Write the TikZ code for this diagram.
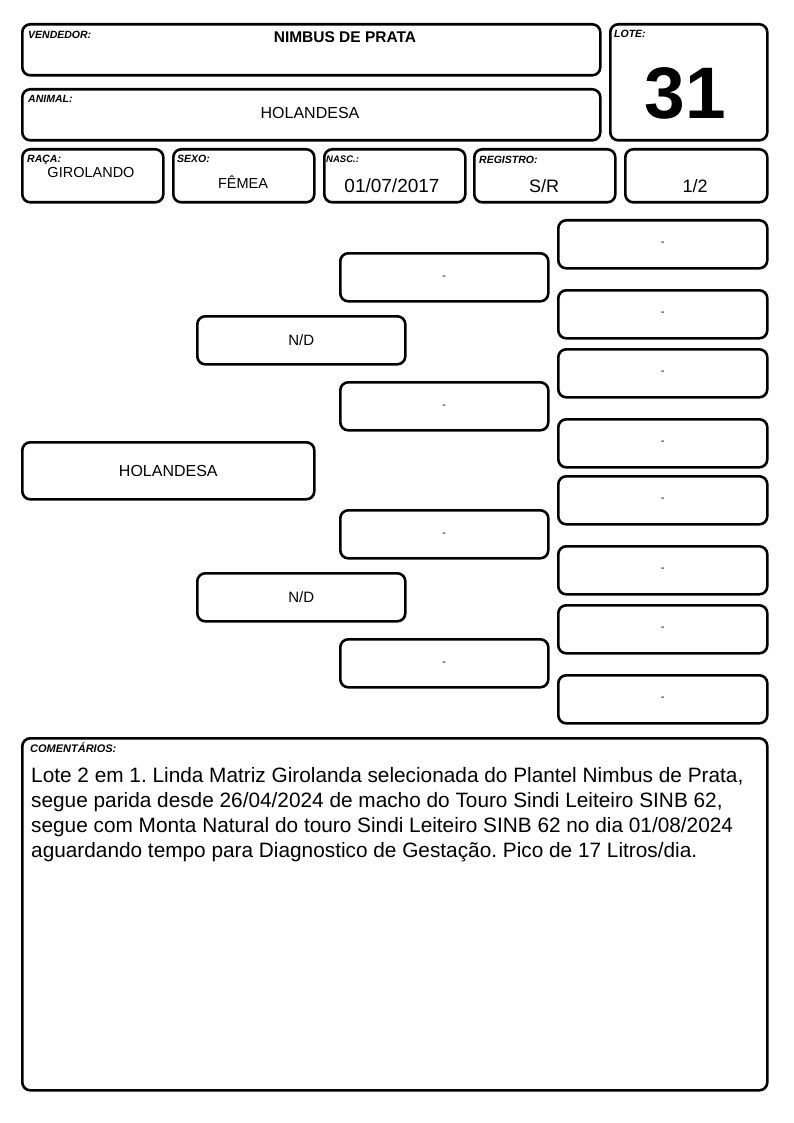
\documentclass[tikz,border=0pt]{standalone}
\usepackage{fontspec}
\setmainfont{Liberation Sans}
\frenchspacing
\begin{document}
\begin{tikzpicture}[x=1pt,y=-1pt,
  box/.style={draw=black, line width=2.6pt, rounded corners=8pt, inner sep=0pt, anchor=north west},
  lbl/.style={anchor=base west, inner sep=0pt, font=\fontsize{10.5}{11}\selectfont\bfseries\itshape},
  val/.style={inner sep=0pt, font=\fontsize{14.5}{16}\selectfont},
  dashtxt/.style={inner sep=0pt, font=\fontsize{11}{12}\selectfont}]
\path[use as bounding box, fill=white] (0,0) rectangle (794,1123);
\newcommand{\bx}[5]{\node[box, minimum width=#4-#2, minimum height=#5-#3] (#1) at (#2,#3) {};}
% header boxes
\bx{vend}{21}{23}{599}{74}
\bx{anim}{21}{88}{599}{139}
\bx{lote}{609}{23}{766}{139}
\bx{raca}{21}{148}{162}{201}
\bx{sexo}{172}{148}{313}{201}
\bx{nasc}{323}{148}{464}{201}
\bx{reg}{473}{148}{614}{201}
\bx{frac}{624}{148}{766}{201}
% labels
\node[lbl] (lvend) at (28,39) {VENDEDOR:};
\node[lbl] (lanim) at (28,102.5) {ANIMAL:};
\node[lbl] (llote) at (614,38) {LOTE:};
\node[lbl] (lraca) at (27,162.5) {RAÇA:};
\node[lbl] (lsexo) at (177,163) {SEXO:};
\node[lbl, font=\fontsize{9.5}{10}\selectfont\bfseries\itshape] (lnasc) at (326,163) {NASC.:};
\node[lbl] (lreg) at (479,164) {REGISTRO:};
% values
\node[inner sep=0pt, anchor=base, font=\fontsize{15.5}{16}\selectfont\bfseries] (tvend) at (345,43) {NIMBUS DE PRATA};
\node[inner sep=0pt, anchor=base, font=\fontsize{16}{16}\selectfont] (tanim) at (310,119) {HOLANDESA};
\node[inner sep=0pt, anchor=base, font=\fontsize{73}{73}\selectfont\bfseries] (tlote) at (685,119) {31};
\node[val, anchor=base] (traca) at (91,178) {GIROLANDO};
\node[val, anchor=base] (tsexo) at (243,189) {FÊMEA};
\node[inner sep=0pt, anchor=base, font=\fontsize{19}{19}\selectfont] (tnasc) at (392,193) {01/07/2017};
\node[inner sep=0pt, anchor=base, font=\fontsize{18}{18}\selectfont] (treg) at (544,193) {S/R};
\node[inner sep=0pt, anchor=base, font=\fontsize{18}{18}\selectfont] (tfrac) at (695,193) {1/2};
% pedigree
\bx{pa}{21}{441}{313}{498}
\node[inner sep=0pt, font=\fontsize{16}{16}\selectfont] (tpa) at (pa.center) {HOLANDESA};
\bx{pba}{196}{315}{404}{363}
\bx{pbb}{196}{572}{404}{620}
\node[inner sep=0pt, font=\fontsize{15}{15}\selectfont] (tpba) at (pba.center) {N/D};
\node[inner sep=0pt, font=\fontsize{15}{15}\selectfont] (tpbb) at (pbb.center) {N/D};
\bx{pca}{339}{252}{547}{300}
\bx{pcb}{339}{381}{547}{429}
\bx{pcc}{339}{509}{547}{557}
\bx{pcd}{339}{638}{547}{686}
\foreach \n in {pca,pcb,pcc,pcd} {\node[dashtxt] (t\n) at ([yshift=-1pt]\n.center) {-};}
\bx{pda}{557}{219}{766}{267}
\bx{pdb}{557}{289}{766}{337}
\bx{pdc}{557}{348}{766}{396}
\bx{pdd}{557}{418}{766}{466}
\bx{pde}{557}{475}{766}{523}
\bx{pdf}{557}{545}{766}{593}
\bx{pdg}{557}{604}{766}{652}
\bx{pdh}{557}{674}{766}{722}
\foreach \n in {pda,pdb,pdc,pdd,pde,pdf,pdg,pdh} {\node[dashtxt] (t\n) at (\n.center) {-};}
% comments
\bx{com}{21}{737}{766}{1089}
\node[lbl, font=\fontsize{11}{11}\selectfont\bfseries\itshape] (lcom) at (30,752) {COMENTÁRIOS:};
\node[anchor=base west, inner sep=0pt, align=left, font=\fontsize{20.8}{25}\selectfont] (tcom) at (31,857)
{Lote 2 em 1. Linda Matriz Girolanda selecionada do Plantel Nimbus de Prata,\\
segue parida desde 26/04/2024 de macho do Touro Sindi Leiteiro SINB 62,\\
segue com Monta Natural do touro Sindi Leiteiro SINB 62 no dia 01/08/2024\\
aguardando tempo para Diagnostico de Gestação. Pico de 17 Litros/dia.};
\end{tikzpicture}
\end{document}
